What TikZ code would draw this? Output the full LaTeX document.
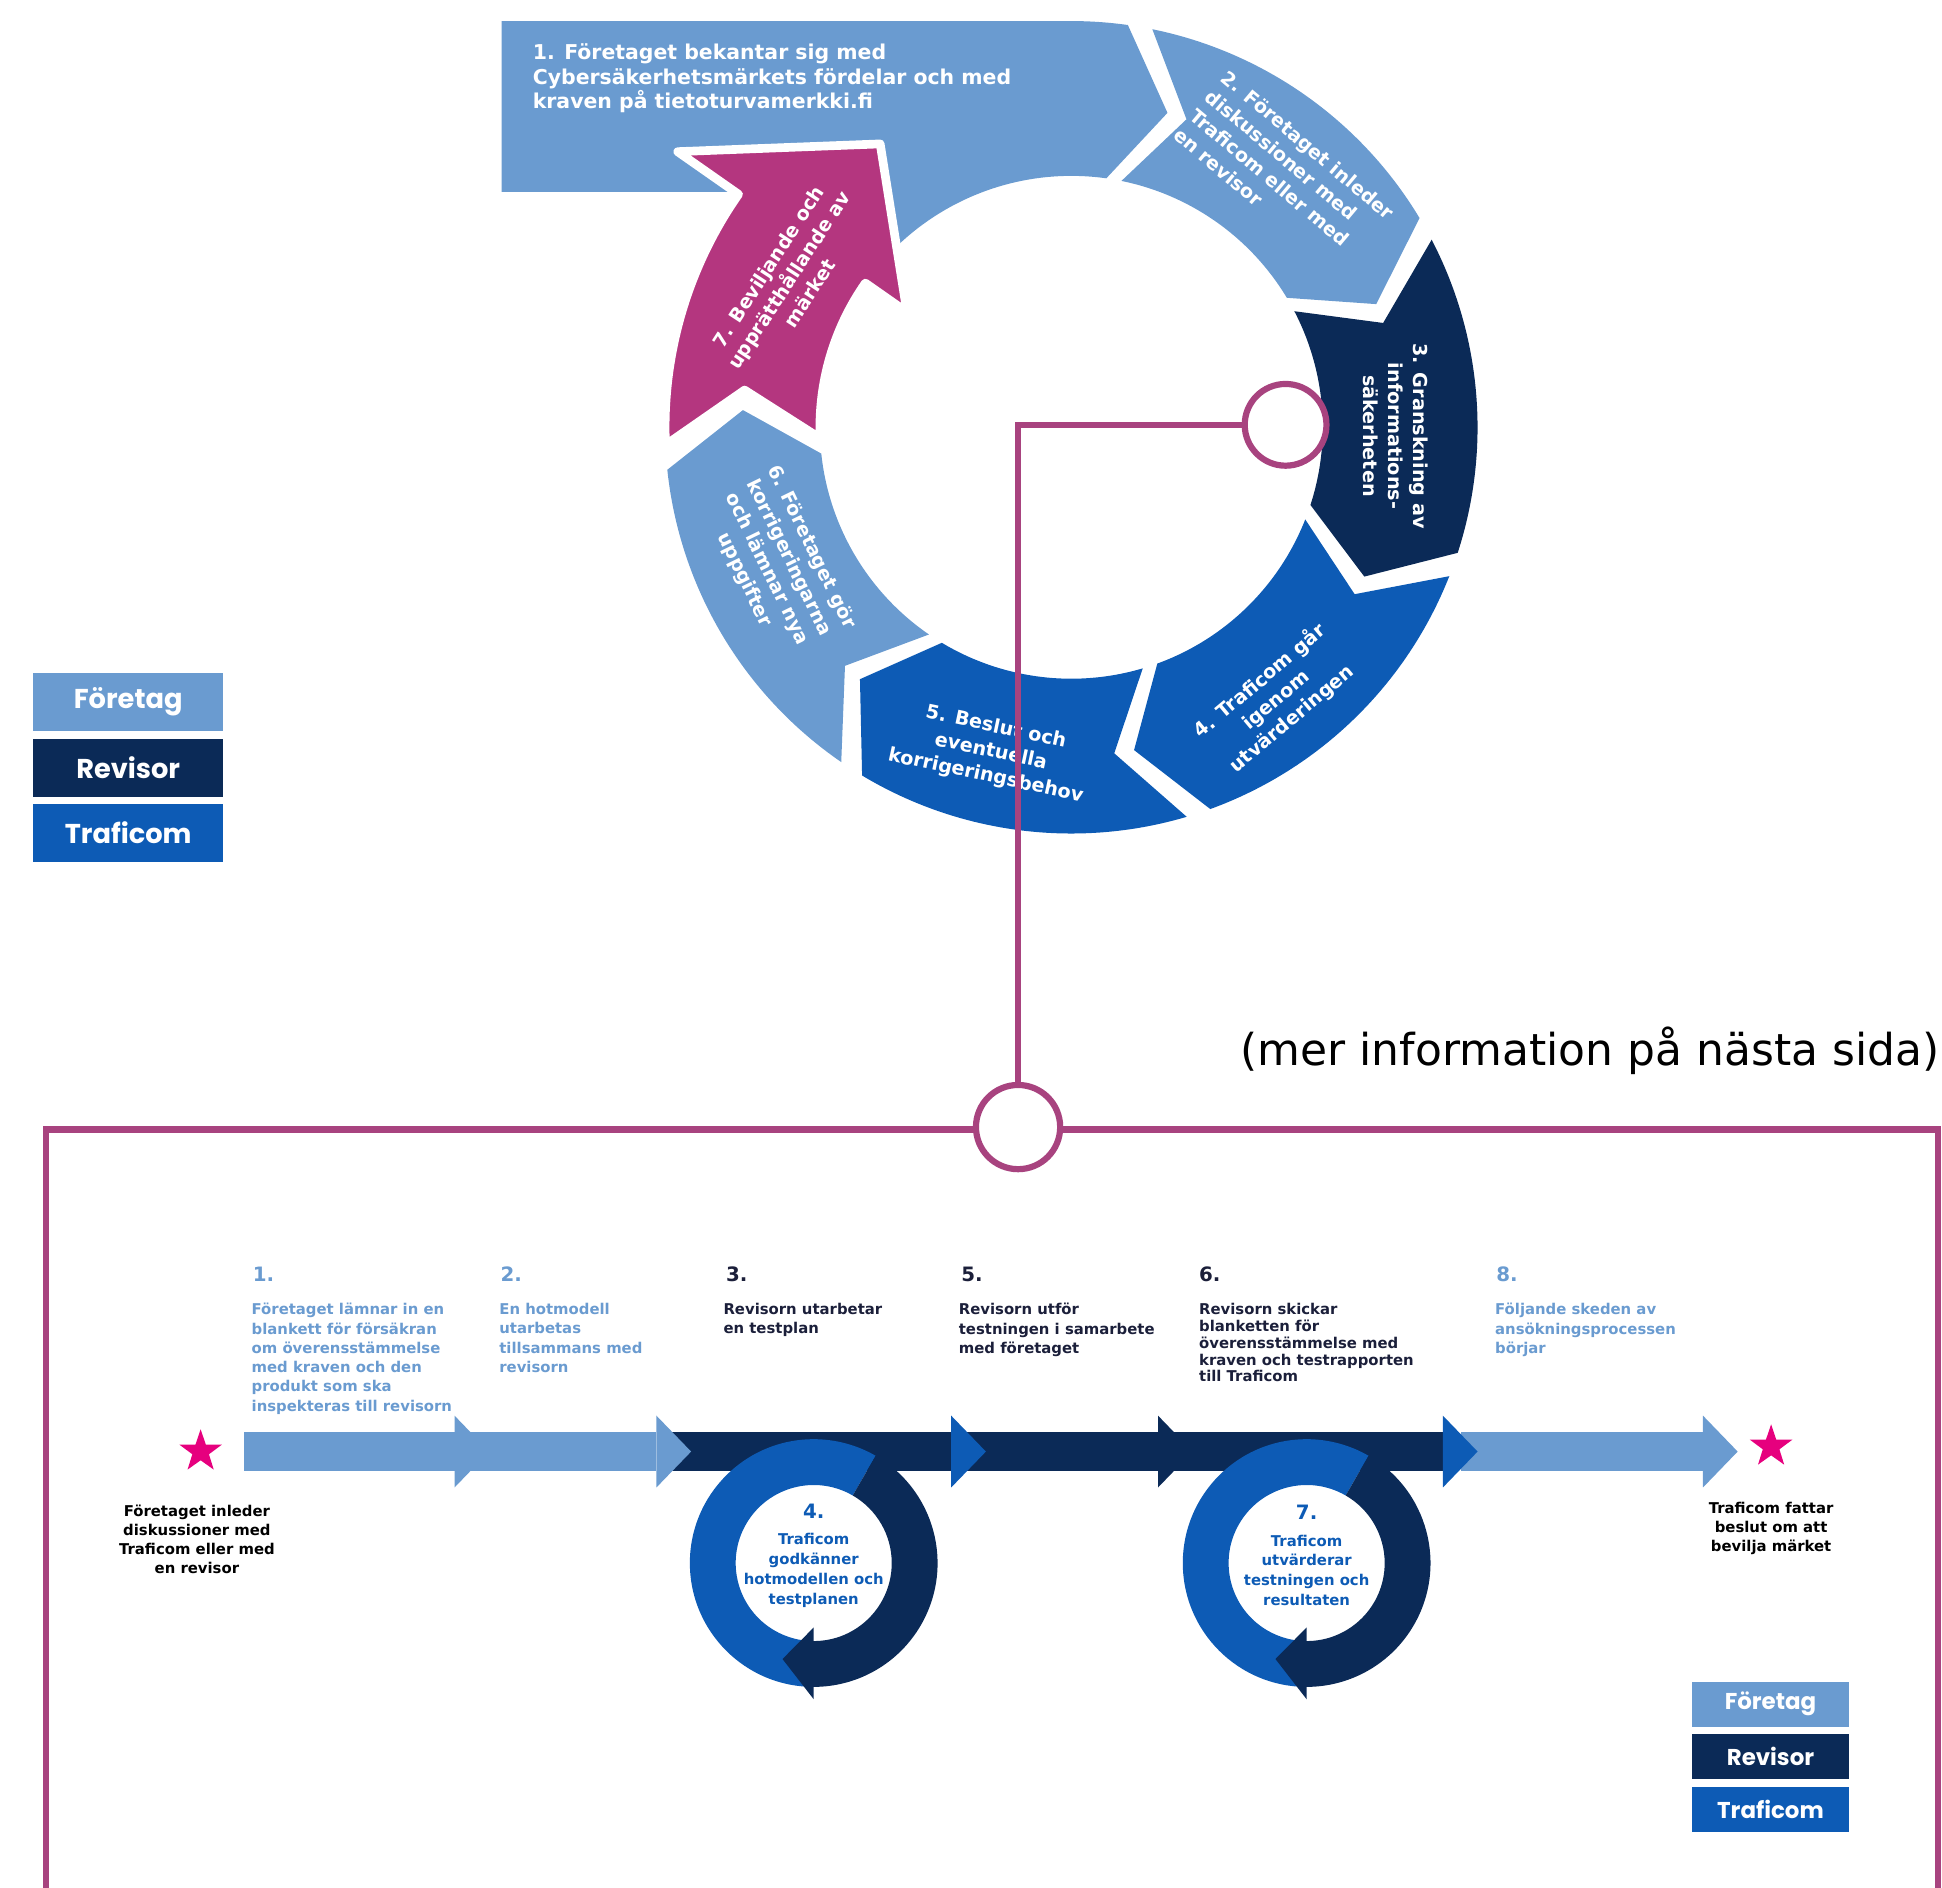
\documentclass[tikz,border=0pt]{standalone}
\usepackage{fontspec}
\setmainfont{DejaVu Sans}
\newfontfamily\legendfont{Poppins}
\usetikzlibrary{positioning, shapes.geometric}

\definecolor{foretag}{HTML}{6A9BD0}
\definecolor{revisor}{HTML}{0B2A57}
\definecolor{traficom}{HTML}{0D5BB5}
\definecolor{markmagenta}{HTML}{B4367F}
\definecolor{linkmagenta}{HTML}{A8437F}
\definecolor{starpink}{HTML}{E6007E}
\definecolor{darktext}{HTML}{1B1F3A}

\begin{document}
\begin{tikzpicture}[x=1pt, y=-1pt,
	segtext/.style={white, inner sep=0, align=center, font=\fontsize{15.5}{20}\selectfont\bfseries},
	bannertext/.style={white, inner sep=0, align=left, anchor=north west, font=\fontsize{16.5}{20}\selectfont\bfseries},
	stepnum/.style={inner sep=0, anchor=north west, font=\fontsize{16}{18}\selectfont\bfseries},
	stepbody/.style={inner sep=0, anchor=north west, align=left, font=\fontsize{12}{15.6}\selectfont\bfseries},
	startext/.style={black, inner sep=0, align=center, font=\fontsize{12}{15.5}\selectfont\bfseries},
	looptext/.style={traficom, inner sep=0, align=center, font=\fontsize{12}{16}\selectfont\bfseries},
	legbox/.style={white, inner sep=0, font=\legendfont\bfseries\fontsize{#1}{#1}\selectfont},
	zoomdot/.style={circle, draw=linkmagenta, line width=5pt, fill=white, inner sep=0},
	starmark/.style={star, star points=5, star point ratio=2.55, fill=starpink, inner sep=0, minimum size=36pt}]

	\useasboundingbox (0,0) rectangle (1568,1524);
	\coordinate (cyc) at (865,345);

	% cycle, steps 2-6
	\foreach \a/\b/\c in {-78.5/-31/foretag, -27.5/18/revisor, 21.5/70/traficom, 73.5/121/traficom, 124.5/174/foretag}{
		\pgfmathsetmacro{\notcha}{\a+9}
		\pgfmathsetmacro{\tipb}{\b+9}
		\fill[\c] ([shift={(cyc)}]\a:328) arc[start angle=\a, end angle=\b, radius=328]
			-- ([shift={(cyc)}]\tipb:265.5) -- ([shift={(cyc)}]\b:203)
			arc[start angle=\b, end angle=\a, radius=203] -- ([shift={(cyc)}]\notcha:265.5) -- cycle;
	}

	% step 1 banner
	\fill[foretag] (405,17) -- (865,17) arc[start angle=-90, end angle=-82, radius=328]
		-- ([shift={(cyc)}]-73:265.5) -- ([shift={(cyc)}]-82:203)
		arc[start angle=-82, end angle=-135, radius=203] -- (600,155) -- (405,155) -- cycle;

	% step 7
	\filldraw[fill=markmagenta, draw=white, line width=7pt, line join=round]
		([shift={(cyc)}]177.5:328) arc[start angle=177.5, end angle=215, radius=328]
		-- ([shift={(cyc)}]215:388) -- ([shift={(cyc)}]236:276) -- ([shift={(cyc)}]215:162)
		-- ([shift={(cyc)}]215:203) arc[start angle=215, end angle=177.5, radius=203]
		-- ([shift={(cyc)}]186.5:265.5) -- cycle;

	\node[bannertext] (t1) at (430,35) {1. Företaget bekantar sig med\\Cybersäkerhetsmärkets fördelar och med\\kraven på tietoturvamerkki.fi};
	\node[segtext, align=left, rotate=-40] (t2) at (1037,140) {2. Företaget inleder\\diskussioner med\\Traficom eller med\\en revisor};
	\node[segtext, rotate=-90] (t3) at (1127,352) {3. Granskning av\\informations-\\säkerheten};
	\node[segtext, rotate=40] (t4) at (1030,565) {4. Traficom går\\igenom\\utvärderingen};
	\node[segtext, rotate=-12] (t5) at (800,607) {5. Beslut och\\eventuella\\korrigeringsbehov};
	\node[segtext, rotate=-64] (t6) at (628,455) {6. Företaget gör\\korrigeringarna\\och lämnar nya\\uppgifter};
	\node[segtext, rotate=57] (t7) at (637,226) {7. Beviljande och\\upprätthållande av\\märket};

	% legend left
	\node[legbox=22, fill=foretag, minimum width=153pt, minimum height=47pt] (legA1) at (103.5,566.5) {Företag};
	\node[legbox=22, fill=revisor, minimum width=153pt, minimum height=47pt, below=6pt of legA1] (legA2) {Revisor};
	\node[legbox=22, fill=traficom, minimum width=153pt, minimum height=47pt, below=5pt of legA2] (legA3) {Traficom};

	\node[inner sep=0, anchor=east, font=\fontsize{35.5}{40}\selectfont] (moreinfo) at (1566,848) {(mer information på nästa sida)};

	% frame and link
	\draw[linkmagenta, line width=5pt] (37,1524) -- (37,912) -- (1565,912) -- (1565,1524);
	\node[zoomdot, minimum size=66pt] (dotA) at (1038,343) {};
	\node[zoomdot, minimum size=68pt] (dotB) at (822,910) {};
	\draw[linkmagenta, line width=5pt] (dotA.west) -| (dotB.north);

	% timeline
	\foreach \xa/\xb/\bc/\hc in {1180/1375/foretag/foretag, 940/1165/revisor/traficom, 780/935/revisor/revisor, 540/768/revisor/traficom, 367/530/foretag/foretag, 197/367/foretag/foretag}{
		\fill[\bc] (\xa,1156.5) rectangle (\xb,1187.5);
		\fill[\hc] (\xb,1143) -- ++(28,29) -- (\xb,1201) -- cycle;
	}

	\foreach \nm/\lx in {loopA/657, loopB/1055}{
		\coordinate (\nm) at (\lx,1262);
		\fill[traficom] ([shift={(\nm)}]90:100) arc[start angle=90, end angle=300, radius=100]
			-- ([shift={(\nm)}]300:63) arc[start angle=300, end angle=90, radius=63] -- cycle;
		\fill[revisor] ([shift={(\nm)}]-60:100) arc[start angle=-60, end angle=90, radius=100]
			-- ([shift={(\nm)}]90:110) -- ([shift={(\nm)}]108:81.5) -- ([shift={(\nm)}]90:52)
			-- ([shift={(\nm)}]90:63) arc[start angle=90, end angle=-60, radius=63] -- cycle;
	}

	\node[looptext] (l4) at (657,1256) {{\fontsize{16}{18}\selectfont 4.}\\[5pt]Traficom\\godkänner\\hotmodellen och\\testplanen};
	\node[looptext] (l7) at (1055,1256) {{\fontsize{16}{18}\selectfont 7.}\\[5pt]Traficom\\utvärderar\\testningen och\\resultaten};

	\node[starmark] (startA) at (162,1172) {};
	\node[starmark] (startB) at (1430,1168) {};
	\node[startext] (startAtxt) at (159,1243) {Företaget inleder\\diskussioner med\\Traficom eller med\\en revisor};
	\node[startext] (startBtxt) at (1430,1234) {Traficom fattar\\beslut om att\\bevilja märket};

	\node[stepnum, foretag] (n1) at (204,1023) {1.};
	\node[stepbody, foretag] (b1) at (203,1052) {Företaget lämnar in en\\blankett för försäkran\\om överensstämmelse\\med kraven och den\\produkt som ska\\inspekteras till revisorn};
	\node[stepnum, foretag] (n2) at (404,1023) {2.};
	\node[stepbody, foretag] (b2) at (403,1052) {En hotmodell\\utarbetas\\tillsammans med\\revisorn};
	\node[stepnum, darktext] (n3) at (586,1023) {3.};
	\node[stepbody, darktext] (b3) at (584,1052) {Revisorn utarbetar\\en testplan};
	\node[stepnum, darktext] (n5) at (776,1023) {5.};
	\node[stepbody, darktext] (b5) at (774,1052) {Revisorn utför\\testningen i samarbete\\med företaget};
	\node[stepnum, darktext] (n6) at (968,1023) {6.};
	\node[stepbody, darktext, font=\fontsize{12}{13.6}\selectfont\bfseries] (b6) at (968,1052) {Revisorn skickar\\blanketten för\\överensstämmelse med\\kraven och testrapporten\\till Traficom};
	\node[stepnum, foretag] (n8) at (1208,1023) {8.};
	\node[stepbody, foretag] (b8) at (1207,1052) {Följande skeden av\\ansökningsprocessen\\börjar};

	% legend right
	\node[legbox=18.5, fill=foretag, minimum width=127pt, minimum height=36pt] (legB1) at (1429.5,1376) {Företag};
	\node[legbox=18.5, fill=revisor, minimum width=127pt, minimum height=36pt, below=6pt of legB1] (legB2) {Revisor};
	\node[legbox=18.5, fill=traficom, minimum width=127pt, minimum height=36pt, below=6pt of legB2] (legB3) {Traficom};
\end{tikzpicture}
\end{document}
